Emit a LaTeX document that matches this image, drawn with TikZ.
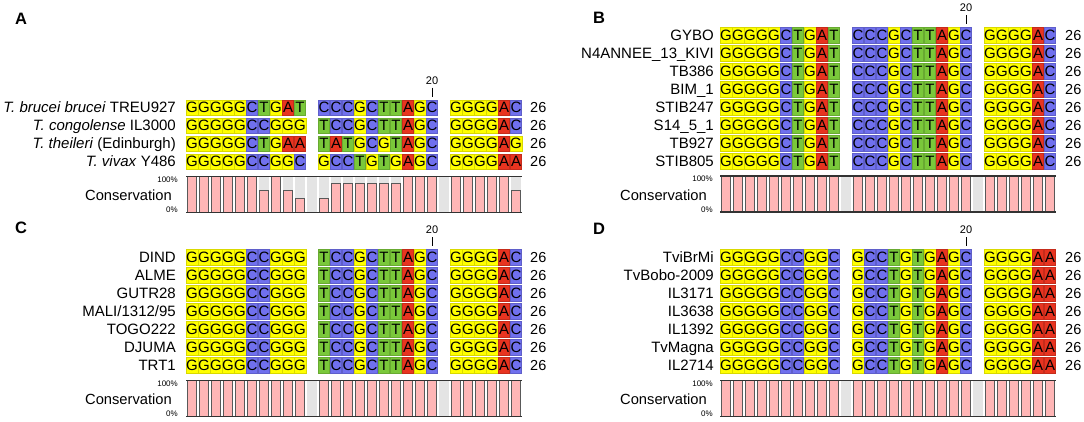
\documentclass[tikz,border=0pt]{standalone}
\usepackage{fontspec}
\setmainfont{Liberation Sans}
\usepackage{tikz}
\usetikzlibrary{positioning}
\definecolor{nucG}{RGB}{255,255,0}
\definecolor{nucC}{RGB}{112,112,238}
\definecolor{nucT}{RGB}{122,200,58}
\definecolor{nucA}{RGB}{232,52,32}
\definecolor{consPink}{RGB}{255,182,182}
\definecolor{consGrey}{RGB}{228,228,228}
\tikzset{
    baseG/.style={fill=nucG, draw=nucG!85!black},
    baseC/.style={fill=nucC, draw=nucC!85!black},
    baseT/.style={fill=nucT, draw=nucT!85!black},
    baseA/.style={fill=nucA, draw=nucA!85!black}
}
% one row of the alignment, '-' is an empty column
\newcount\alnpos
\newcommand\seqrow[4]{%
    \alnpos=0 \def\alnid{#1}\def\alnx{#2}\def\alny{#3}%
    \expandafter\alnscan#4\relax}
\def\alnscan#1{%
    \ifx#1\relax\else
        \if#1-\else
            \node[base, base#1] (\alnid-\the\alnpos) at (\alnx+\the\alnpos*12+6, \alny) {#1};
        \fi
        \advance\alnpos by 1
        \expandafter\alnscan
    \fi}
% conservation bars, 0 = gap column
\newcommand\consplot[3]{%
    \foreach \h [count=\i from 0] in {#3} {
        \draw[conscell] (#1+\i*12+0.5, #2) rectangle ++(11, 36);
        \ifdim\h pt>0pt
            \draw[consbar] (#1+\i*12+1.5, #2+36) rectangle ++(9, -36*\h);
        \fi
    }
    \draw[consline] (#1, #2) -- ++(336, 0);
    \draw[consline] (#1, #2+36) -- ++(336, 0);}

\begin{document}
\begin{tikzpicture}[
        x=1pt, y=-1pt,
        % --- STYLE ---
        base/.style={minimum width=11pt, minimum height=15.5pt, inner sep=0pt,
            line width=0.4pt, font=\fontsize{15}{15}\selectfont},
        seqname/.style={anchor=base east, inner sep=0pt, font=\fontsize{15}{15}\selectfont},
        seqlen/.style={anchor=base west, inner sep=0pt, font=\fontsize{14.5}{15}\selectfont},
        panellabel/.style={inner sep=0pt, font=\fontsize{16.5}{16.5}\selectfont\bfseries},
        ticklabel/.style={inner sep=0pt, font=\fontsize{11}{11}\selectfont},
        tick/.style={line width=0.9pt, shorten <=3pt, shorten >=3pt},
        scalelabel/.style={anchor=east, inner sep=0pt, font=\fontsize{8}{8}\selectfont},
        conslabel/.style={anchor=east, inner sep=0pt, font=\fontsize{14.7}{15}\selectfont},
        conscell/.style={fill=consGrey, draw=white, line width=0.7pt},
        consbar/.style={fill=consPink, draw=black!65, line width=0.9pt},
        consline/.style={draw=black!80, line width=1.5pt}
    ]
    \useasboundingbox (0,0) rectangle (1084,421);

    % --- PANEL A ---
    \node[panellabel] (labA) at (21,19) {A};
    \foreach \nm/\sq [count=\r from 0] in {
            {\textit{T. brucei brucei} TREU927}/GGGGGCTGAT-CCCGCTTAGC-GGGGAC,
            {\textit{T. congolense} IL3000}/GGGGGCCGGG-TCCGCTTAGC-GGGGAC,
            {\textit{T. theileri} (Edinburgh)}/GGGGGCTGAA-TATGCGTAGC-GGGGAG,
            {\textit{T. vivax} Y486}/GGGGGCCGGC-GCCTGTGAGC-GGGGAA} {
        \node[seqname] (A-n\r) at (176, 112.8+18*\r) {\nm};
        \seqrow{A\r}{186}{107.5+18*\r}{\sq}
        \node[seqlen] (A-l\r) at (530, 112.8+18*\r) {26};
    }
    \node[ticklabel] (A-pos20) at (432, 80.5) {20};
    \draw[tick] (A-pos20.south) -- (A0-20.north);
    \consplot{186}{176.5}{1,1,1,1,1,1,.6,1,.6,.4,0,.4,.8,.8,.8,.8,.8,.8,1,1,1,0,1,1,1,1,1,.6}
    \node[scalelabel] (A-top) at (178, 179.5) {100\%};
    \node[scalelabel] (A-bot) at (178, 210) {0\%};
    \node[conslabel] (A-cons) at (172, 195) {Conservation};

    % --- PANEL B ---
    \node[panellabel] (labB) at (599,17.5) {B};
    \foreach \nm [count=\r from 0] in {GYBO, N4ANNEE\_13\_KIVI, TB386, BIM\_1,
            STIB247, S14\_5\_1, TB927, STIB805} {
        \node[seqname] (B-n\r) at (714, 40.3+18*\r) {\nm};
        \seqrow{B\r}{720}{35+18*\r}{GGGGGCTGAT-CCCGCTTAGC-GGGGAC}
        \node[seqlen] (B-l\r) at (1065, 40.3+18*\r) {26};
    }
    \node[ticklabel] (B-pos20) at (966, 8) {20};
    \draw[tick] (B-pos20.south) -- (B0-20.north);
    \consplot{720}{176}{1,1,1,1,1,1,1,1,1,1,0,1,1,1,1,1,1,1,1,1,1,0,1,1,1,1,1,1}
    \node[scalelabel] (B-top) at (713, 179) {100\%};
    \node[scalelabel] (B-bot) at (713, 209.5) {0\%};
    \node[conslabel] (B-cons) at (707, 195) {Conservation};

    % --- PANEL C ---
    \node[panellabel] (labC) at (21,228) {C};
    \foreach \nm [count=\r from 0] in {DIND, ALME, GUTR28, MALI/1312/95,
            TOGO222, DJUMA, TRT1} {
        \node[seqname] (C-n\r) at (176, 262.3+18*\r) {\nm};
        \seqrow{C\r}{186}{257+18*\r}{GGGGGCCGGG-TCCGCTTAGC-GGGGAC}
        \node[seqlen] (C-l\r) at (530, 262.3+18*\r) {26};
    }
    \node[ticklabel] (C-pos20) at (432, 230) {20};
    \draw[tick] (C-pos20.south) -- (C0-20.north);
    \consplot{186}{380.5}{1,1,1,1,1,1,1,1,1,1,0,1,1,1,1,1,1,1,1,1,1,0,1,1,1,1,1,1}
    \node[scalelabel] (C-top) at (178, 383.5) {100\%};
    \node[scalelabel] (C-bot) at (178, 414) {0\%};
    \node[conslabel] (C-cons) at (172, 399) {Conservation};

    % --- PANEL D ---
    \node[panellabel] (labD) at (599,229) {D};
    \foreach \nm [count=\r from 0] in {TviBrMi, TvBobo-2009, IL3171, IL3638,
            IL1392, TvMagna, IL2714} {
        \node[seqname] (D-n\r) at (714, 262.3+18*\r) {\nm};
        \seqrow{D\r}{720}{257+18*\r}{GGGGGCCGGC-GCCTGTGAGC-GGGGAA}
        \node[seqlen] (D-l\r) at (1065, 262.3+18*\r) {26};
    }
    \node[ticklabel] (D-pos20) at (966, 230) {20};
    \draw[tick] (D-pos20.south) -- (D0-20.north);
    \consplot{720}{380.5}{1,1,1,1,1,1,1,1,1,1,0,1,1,1,1,1,1,1,1,1,1,0,1,1,1,1,1,1}
    \node[scalelabel] (D-top) at (713, 383.5) {100\%};
    \node[scalelabel] (D-bot) at (713, 414) {0\%};
    \node[conslabel] (D-cons) at (707, 399) {Conservation};

\end{tikzpicture}
\end{document}
